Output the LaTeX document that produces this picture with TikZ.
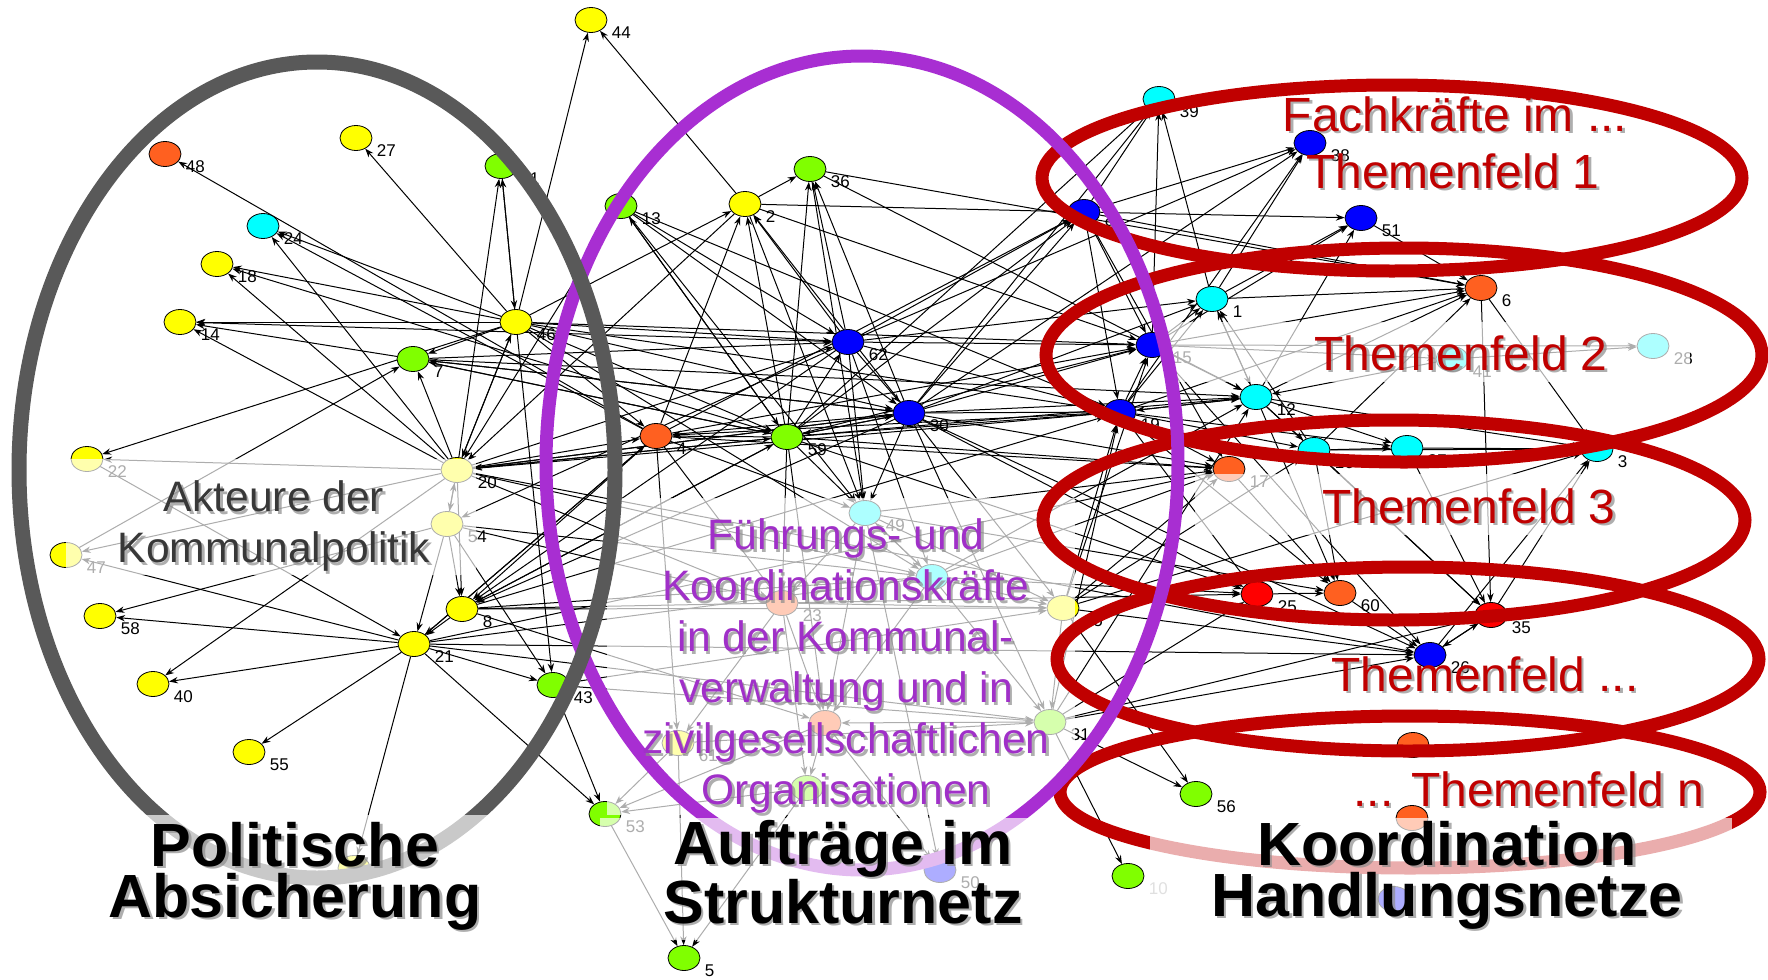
\documentclass[tikz,border=0pt]{standalone}
\usepackage{fontspec}
\setmainfont{Liberation Sans}
\usetikzlibrary{shapes.geometric,arrows.meta}
\pgfdeclarelayer{bglayer}
\pgfdeclarelayer{edgelayer}
\pgfsetlayers{bglayer,edgelayer,main}
\definecolor{cY}{HTML}{FFFF00}
\definecolor{cG}{HTML}{80FF00}
\definecolor{cO}{HTML}{FF6020}
\definecolor{cC}{HTML}{00FFFF}
\definecolor{cB}{HTML}{0000FF}
\definecolor{cR}{HTML}{FF0000}
\definecolor{ringgray}{HTML}{595959}
\definecolor{ringpurple}{HTML}{A82ED2}
\definecolor{ringred}{HTML}{C00000}
\definecolor{txtpurple}{HTML}{A030C8}
\definecolor{txtgray}{HTML}{383838}
\definecolor{shadowgray}{HTML}{8C8C8C}
\definecolor{lblgray}{HTML}{A0A0A0}
\newcommand\netnode[5]{\node[#4] (n#1) at (#2,#3) {}; \node[lbl] (l#1) at ([xshift=2pt,yshift=-6.5pt]n#1.east) {#5};}
\newcommand\netnodeq[4]{\node[#4] (n#1) at (#2,#3) {};}
\newcommand\shadowtext[5]{%
  \node[#4, text=shadowgray, opacity=0.7] (#1s) at (#2+2.5,#3+2.5) {#5};
  \node[#4] (#1) at (#2,#3) {#5};}
\begin{document}
\begin{tikzpicture}[x=0.5pt,y=-0.5pt,
  nd/.style={ellipse, draw=black, line width=0.4pt, minimum width=16pt, minimum height=12.5pt, inner sep=0pt},
  ndY/.style={nd, fill=cY}, ndG/.style={nd, fill=cG}, ndO/.style={nd, fill=cO},
  ndC/.style={nd, fill=cC}, ndB/.style={nd, fill=cB}, ndR/.style={nd, fill=cR},
  lbl/.style={anchor=west, inner sep=0pt, font=\fontsize{8.5}{9}\selectfont},
  lnk/.style={line width=0.5pt, draw=black, -{Stealth[length=4.4pt,width=3.2pt]}},
  fadebox/.style={fill=white, opacity=0.68},
  ring/.style={line width=6.5pt},
  akt/.style={align=center, text=txtgray, font=\fontsize{21.3}{25.5}\selectfont, inner sep=0pt},
  purp/.style={align=center, text=txtpurple, font=\fontsize{21.3}{25.5}\selectfont, inner sep=0pt},
  redt/.style={text=ringred, font=\fontsize{24}{28}\selectfont, inner sep=0pt},
  titlet/.style={align=center, text=black, font=\bfseries\fontsize{30.5}{25.5}\selectfont, inner sep=0pt}]
\useasboundingbox (0,0) rectangle (1768,980);
\begin{pgfonlayer}{bglayer}
\fill[white] (0,0) rectangle (1768,980);
\end{pgfonlayer}

% ---- nodes ----
\netnode{44}{591}{20}{ndY}{44}
\netnode{48}{165}{154}{ndO}{48}
\netnode{27}{356}{138}{ndY}{27}
\netnode{11}{501}{166}{ndG}{11}
\netnode{24}{263}{226}{ndC}{24}
\netnode{18}{217}{264}{ndY}{18}
\netnode{14}{180}{322}{ndY}{14}
\netnode{46}{516}{322}{ndY}{46}
\netnode{7}{413}{359}{ndG}{7}
\netnode{22}{87}{459}{ndY}{22}
\netnode{20}{457}{470}{ndY}{20}
\netnode{54}{447}{524}{ndY}{54}
\netnode{47}{66}{555}{ndY}{47}
\netnode{8}{462}{609}{ndY}{8}
\netnode{58}{100}{616}{ndY}{58}
\netnode{21}{414}{644}{ndY}{21}
\netnode{40}{153}{684}{ndY}{40}
\netnode{55}{249}{752}{ndY}{55}
\netnodeq{6b}{354}{868}{ndY}
\netnode{43}{553}{685}{ndG}{43}
\netnode{53}{605}{814}{ndG}{53}
\netnode{5}{684}{958}{ndG}{5}
\netnode{13}{621}{206}{ndG}{13}
\netnode{2}{745}{204}{ndY}{2}
\netnode{36}{810}{169}{ndG}{36}
\netnode{62}{848}{342}{ndB}{62}
\netnode{30}{909}{413}{ndB}{30}
\netnode{4}{656}{436}{ndO}{4}
\netnode{59}{787}{437}{ndG}{59}
\netnode{49}{865}{513}{ndC}{49}
\netnodeq{52}{932}{577}{ndC}
\netnode{23}{782}{603}{ndO}{23}
\netnode{45}{1063}{608}{ndY}{45}
\netnode{61}{678}{743}{ndY}{61}
\netnodeq{42}{825}{723}{ndO}
\netnode{31}{1050}{722}{ndG}{31}
\netnodeq{34}{807}{788}{ndG}
\netnode{50}{940}{870}{ndB}{50}
\netnode{39}{1159}{99}{ndC}{39}
\netnode{38}{1310}{143}{ndB}{38}
\netnode{9}{1084}{212}{ndB}{9}
\netnode{51}{1361}{218}{ndB}{51}
\netnode{6}{1481}{288}{ndO}{6}
\netnode{1}{1212}{299}{ndC}{1}
\netnode{15}{1152}{345}{ndB}{15}
\netnode{28}{1653}{346}{ndC}{28}
\netnode{41}{1452}{359}{ndC}{41}
\netnode{12}{1256}{397}{ndC}{12}
\netnode{19}{1120}{412}{ndB}{19}
\netnode{16}{1314}{450}{ndC}{16}
\netnode{37}{1407}{448}{ndC}{37}
\netnode{3}{1597}{449}{ndC}{3}
\netnode{17}{1229}{469}{ndO}{17}
\netnode{25}{1257}{594}{ndR}{25}
\netnode{60}{1340}{593}{ndO}{60}
\netnode{35}{1491}{615}{ndR}{35}
\netnode{26}{1430}{655}{ndB}{26}
\netnode{56}{1196}{794}{ndG}{56}
\node[ndG] (n10) at (1128,876) {};
\node[lbl, text=lblgray] (l10) at ([xshift=2pt,yshift=-6.5pt]n10.east) {10};
\netnodeq{33}{1413}{745}{ndO}
\netnodeq{32}{1412}{818}{ndO}
\netnodeq{57}{1394}{899}{ndB}

% ---- connectors ----
\begin{pgfonlayer}{edgelayer}
\foreach \a/\b in {46/44, 2/44, 46/27, 4/48, 46/24, 4/24, 20/24, 46/18, 59/18, 20/18, 46/14, 7/14, 62/14, 20/14, 46/7, 20/7, 59/7, 30/7, 46/22, 20/22, 22/21, 20/47, 21/47, 47/7, 54/58, 21/58, 21/40, 20/40, 21/55, 21/6b, 20/11, 46/11, 11/46, 20/46, 46/20, 54/20, 20/54, 54/21, 8/21, 20/8, 54/8, 54/43, 21/43, 21/53, 43/53, 53/5, 61/5, 46/43, 2/20, 13/20, 30/20, 59/20, 62/54, 30/8, 59/8, 4/8, 62/8, 8/59, 21/4, 4/21,
59/2, 62/2, 4/2, 46/2, 30/2, 59/36, 62/36, 2/36, 30/36, 36/12, 36/6, 2/15, 2/9, 13/59, 13/30, 59/13, 13/62, 13/19, 59/62, 62/30, 59/30, 30/59, 46/62, 46/59, 46/30, 46/4, 59/4, 30/4, 20/30, 20/62, 20/59, 20/4, 7/59, 7/30, 7/62,
59/9, 30/9, 4/9, 62/9, 9/51, 9/38, 9/39, 9/15, 9/19, 9/6, 30/39, 59/39, 30/38, 62/38, 15/39, 19/38, 1/38, 1/51, 15/51, 12/51, 19/1, 15/1, 12/1, 30/1, 62/1, 16/1, 19/15, 30/15, 62/15, 59/15, 4/15, 46/15, 30/19, 59/19, 62/19, 4/19, 46/19, 20/19, 8/19, 12/19, 19/12, 15/12, 30/12, 59/12, 1/12, 7/12, 41/12, 15/6, 12/6, 1/6, 16/6, 19/6, 6/35, 12/16, 12/37, 16/37, 12/3, 37/3, 16/3, 19/37, 19/16, 35/3, 26/3, 19/17, 30/17, 59/17, 21/17, 4/17, 12/60, 16/60, 19/60, 17/60, 25/60, 19/25, 30/25, 8/25, 59/25, 60/26, 12/35, 16/35, 37/35, 26/35, 35/26, 30/26, 21/26, 45/26, 31/26, 15/26, 20/26, 31/56, 31/10, 45/56, 45/3, 45/17, 45/16, 15/28, 41/28, 15/41, 51/6, 6/3, 1/39, 9/17,
59/49, 30/49, 62/49, 2/49, 36/49, 4/49, 49/52, 52/49, 49/23, 49/45, 52/45, 52/31, 45/31, 23/61, 23/42, 49/42, 42/34, 61/53, 42/53, 34/53, 31/42, 23/34, 59/23, 59/42, 4/61, 8/42, 52/42, 42/50, 49/50, 34/5, 13/49, 20/52, 8/52, 54/52, 21/52, 23/45, 61/31, 20/23, 54/23, 4/23, 46/52, 30/31, 62/52, 30/45, 45/19, 45/15, 31/19, 31/12, 52/12, 52/17, 49/17, 52/25, 31/25, 49/60, 31/35, 43/45, 43/31, 8/45, 21/31}
  {\draw[lnk] (n\a) -- (n\b);}
\end{pgfonlayer}

% ---- semi-transparent text backgrounds ----
\fill[fadebox] (66,459) rectangle (476,575);
\fill[fadebox] (607,498) rectangle (1075,815);
\fill[fadebox] (1165,322) rectangle (1690,382);
\fill[fadebox] (1195,474) rectangle (1660,535);

% ---- rings ----
\draw[ring, ringred] (1392,178) ellipse [x radius=350, y radius=93];
\draw[ring, ringred] (1404,355) ellipse [x radius=358, y radius=107];
\draw[ring, ringred] (1394,520) ellipse [x radius=351, y radius=100];
\draw[ring, ringred] (1408,659) ellipse [x radius=351, y radius=92];
\draw[ring, ringred] (1410,792) ellipse [x radius=350, y radius=76];
\draw[ring, ringpurple] (862,463) ellipse [x radius=316, y radius=407];
\draw[line width=7.5pt, ringgray] (317,470) ellipse [x radius=298, y radius=408];

% ---- title backgrounds ----
\fill[fadebox] (140,815) rectangle (495,940);
\fill[fadebox] (600,818) rectangle (1044,940);
\fill[fadebox] (1150,818) rectangle (1732,940);

% ---- texts ----
\shadowtext{tAkt}{274}{526}{akt}{Akteure der\\Kommunalpolitik}
\shadowtext{tFuehr}{846}{666}{purp}{Führungs- und\\Koordinationskräfte\\in der Kommunal-\\verwaltung und in\\zivilgesellschaftlichen\\Organisationen}
\shadowtext{tFach}{1455}{114}{redt}{Fachkräfte im ...}
\shadowtext{tThA}{1453}{171}{redt}{Themenfeld 1}
\shadowtext{tThB}{1461}{353}{redt}{Themenfeld 2}
\shadowtext{tThC}{1469}{506}{redt}{Themenfeld 3}
\shadowtext{tThD}{1485}{674}{redt}{Themenfeld ...}
\shadowtext{tThE}{1529}{789}{redt}{... Themenfeld n}
\shadowtext{tPol}{295}{876}{titlet}{Politische\\Absicherung}
\shadowtext{tAuf}{843}{872}{titlet}{Aufträge im\\Strukturnetz}
\shadowtext{tKoo}{1447}{875}{titlet}{Koordination\\Handlungsnetze}
\end{tikzpicture}
\end{document}
